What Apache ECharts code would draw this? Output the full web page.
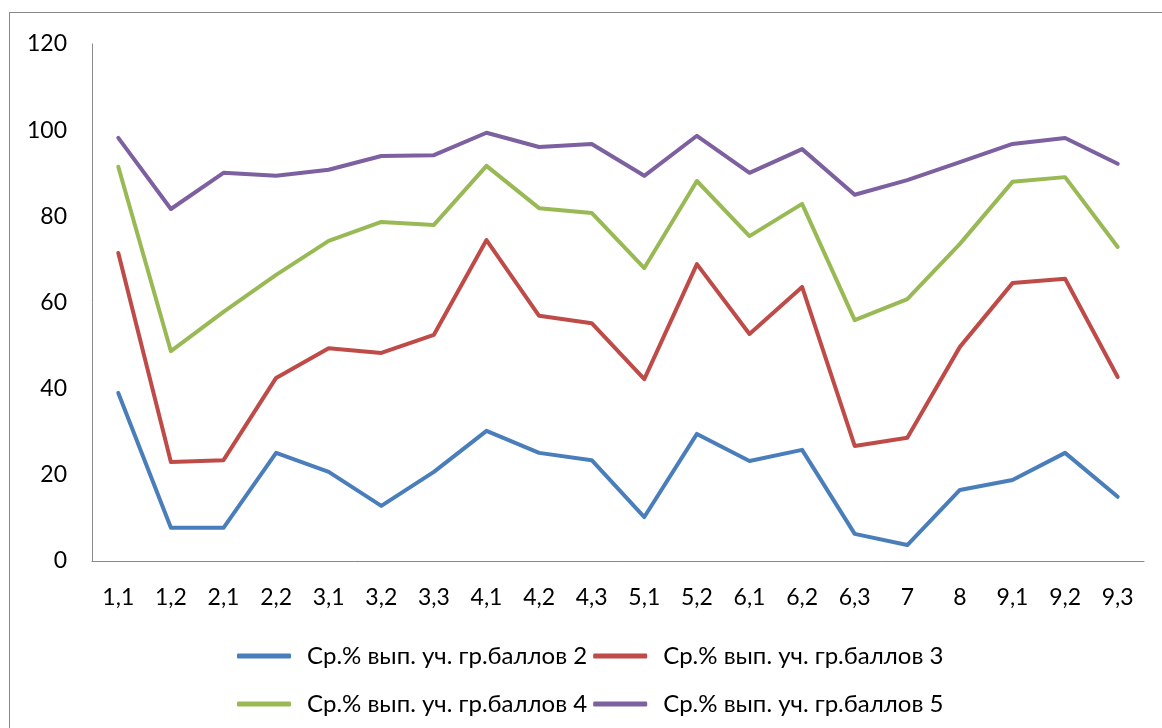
<!DOCTYPE html>
<html>
<head>
<meta charset="utf-8">
<script src="https://cdn.jsdelivr.net/npm/echarts@6/dist/echarts.min.js"></script>
<style>
html,body{margin:0;padding:0;background:#fff;}
#frame{position:absolute;left:9px;top:12px;width:1200px;height:800px;border-left:1px solid #888;border-top:1px solid #888;}
#chart{position:absolute;left:0;top:0;width:1162px;height:728px;}
</style>
</head>
<body>
<div id="frame"></div>
<div id="chart"></div>
<script>
const categories = ['1,1','1,2','2,1','2,2','3,1','3,2','3,3','4,1','4,2','4,3','5,1','5,2','6,1','6,2','6,3','7','8','9,1','9,2','9,3'];
const seriesNames = ['Ср.% вып. уч. гр.баллов 2','Ср.% вып. уч. гр.баллов 3','Ср.% вып. уч. гр.баллов 4','Ср.% вып. уч. гр.баллов 5'];
const score2 = [39.0, 7.7, 7.7, 25.1, 20.7, 12.8, 20.7, 30.2, 25.1, 23.4, 10.2, 29.5, 23.2, 25.8, 6.3, 3.7, 16.5, 18.8, 25.1, 14.9];
const score3 = [71.5, 23.0, 23.4, 42.5, 49.4, 48.3, 52.5, 74.5, 56.9, 55.2, 42.2, 68.9, 52.7, 63.6, 26.7, 28.6, 49.7, 64.5, 65.5, 42.7];
const score4 = [91.5, 48.7, 57.8, 66.4, 74.3, 78.7, 78.0, 91.7, 81.9, 80.8, 68.0, 88.2, 75.4, 82.9, 55.9, 60.8, 73.6, 88.0, 89.1, 72.9];
const score5 = [98.2, 81.7, 90.1, 89.4, 90.8, 94.0, 94.2, 99.4, 96.1, 96.8, 89.4, 98.7, 90.1, 95.6, 85.0, 88.4, 92.6, 96.8, 98.2, 92.2];
const colors = ['#4A7EBB','#BE4B48','#98B954','#7D60A0'];
const allData = [score2, score3, score4, score5];

const FONT = 'Lato';
const FS = 23;
const chart = echarts.init(document.getElementById('chart'));
const legendBase = {
  icon: 'roundRect', itemWidth: 54, itemHeight: 5, itemGap: 6, padding: 0,
  textStyle: {fontFamily: FONT, fontSize: 24, color: '#000', padding: [0,0,0,11]},
  orient: 'horizontal'
};
chart.setOption({
  animation: false,
  color: colors,
  grid: {left: 92, right: 18, top: 44, bottom: 167, containLabel: false},
  legend: [
    Object.assign({}, legendBase, {left: 237, top: 644, data: [seriesNames[0], seriesNames[1]]}),
    Object.assign({}, legendBase, {left: 237, top: 692, data: [seriesNames[2], seriesNames[3]]})
  ],
  xAxis: {
    type: 'category', data: categories, boundaryGap: true,
    axisLine: {lineStyle: {color: '#888', width: 1}},
    axisTick: {show: false},
    axisLabel: {fontFamily: FONT, fontSize: FS, color: '#000', margin: 25, interval: 0}
  },
  yAxis: {
    type: 'value', min: 0, max: 120, interval: 20,
    axisLine: {show: true, lineStyle: {color: '#888', width: 1}},
    axisTick: {show: false},
    splitLine: {show: false},
    axisLabel: {fontFamily: FONT, fontSize: FS, color: '#000', margin: 25}
  },
  series: allData.map((d, i) => ({
    name: seriesNames[i], type: 'line', data: d,
    symbol: 'none', showSymbol: false,
    lineStyle: {width: 4, color: colors[i], cap: 'round', join: 'round'},
    itemStyle: {color: colors[i]}
  }))
});
</script>
</body>
</html>
